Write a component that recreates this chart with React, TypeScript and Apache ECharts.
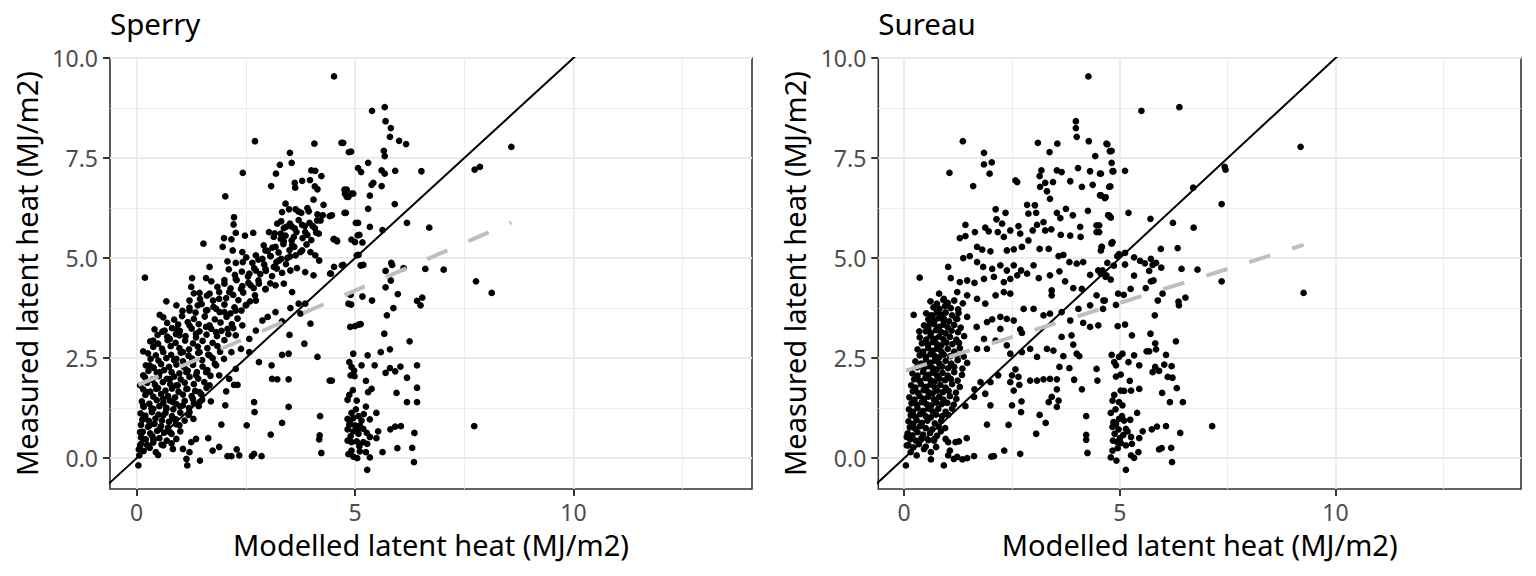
import React, { useEffect, useRef } from "react";
import * as echarts from "echarts";

const FONT = "Noto Sans";

const panelTitles = ["Sperry", "Sureau"];
const xAxisTitle = "Modelled latent heat (MJ/m2)";
const yAxisTitle = "Measured latent heat (MJ/m2)";

const xTickValues = [0, 5, 10];
const yTickValues = [0, 2.5, 5, 7.5, 10];
const xMinorValues = [2.5, 7.5, 12.5];
const yMinorValues = [1.25, 3.75, 6.25, 8.75];

// Sperry panel: scattered points
const sperryScatter: [number, number][] = [
  [4.52, 9.54], [2.71, 7.92], [4.07, 7.86], [4.69, 7.88], [4.86, 7.65], [3.51, 7.63], [3.55, 7.38], [3.28, 7.33],
  [2.43, 7.13], [3.19, 7.11], [4.0, 7.19], [4.09, 7.18], [4.23, 7.05], [3.08, 6.8], [3.62, 6.88], [3.79, 6.93],
  [3.97, 6.95], [4.08, 6.79], [4.14, 6.72], [3.63, 6.76], [4.76, 6.71], [4.81, 6.53], [4.92, 6.61], [2.03, 6.54],
  [4.05, 6.46], [4.28, 6.33], [3.41, 6.36], [3.64, 6.22], [3.77, 6.13], [3.94, 6.17], [4.14, 6.09], [4.26, 6.07],
  [4.42, 6.05], [4.76, 6.13], [3.33, 6.15], [2.23, 6.02], [2.22, 5.84], [3.22, 5.86], [3.37, 5.75], [3.55, 5.79],
  [3.79, 5.83], [4.03, 5.8], [4.13, 5.94], [4.17, 5.61], [2.27, 5.63], [2.48, 5.56], [2.67, 5.63], [2.0, 5.5],
  [2.17, 5.47], [3.03, 5.65], [3.14, 5.53], [3.3, 5.61], [3.6, 5.53], [3.86, 5.65], [5.02, 5.88], [5.06, 5.57],
  [1.53, 5.36], [1.97, 5.28], [2.2, 5.19], [2.42, 5.15], [4.51, 5.47], [4.59, 5.42], [3.37, 5.42], [3.56, 5.32],
  [3.18, 5.28], [2.95, 5.19], [3.79, 5.19], [3.98, 5.15], [2.73, 5.07], [2.88, 4.98], [3.07, 5.05], [3.26, 4.94],
  [3.45, 5.0], [3.64, 5.07], [4.09, 5.07], [4.18, 4.94], [2.08, 4.92], [2.27, 4.88], [2.43, 4.9], [1.67, 4.78],
  [0.19, 4.51], [1.27, 4.5], [1.59, 4.5], [2.01, 4.45], [2.27, 4.48], [2.58, 4.61], [2.73, 4.69], [2.95, 4.73],
  [3.14, 4.78], [3.33, 4.63], [3.52, 4.69], [3.67, 4.75], [3.86, 4.65], [4.05, 4.57], [4.45, 4.61], [4.7, 4.82],
  [5.04, 5.07], [5.14, 4.82], [1.25, 4.28], [1.44, 4.13], [1.67, 4.11], [1.89, 3.98], [2.12, 4.15], [2.39, 4.23],
  [2.61, 4.32], [2.8, 4.36], [2.95, 4.23], [3.18, 4.32], [3.37, 4.36], [3.56, 4.15], [0.68, 3.92], [0.53, 3.58],
  [1.21, 3.94], [1.21, 3.69], [1.4, 3.82], [1.59, 3.69], [1.82, 3.73], [2.01, 3.65], [2.27, 3.69], [2.5, 3.82],
  [2.73, 3.94], [3.0, 3.53], [3.18, 3.65], [3.33, 3.42], [3.75, 3.61], [3.98, 3.36], [3.52, 3.75], [3.71, 3.86],
  [3.86, 3.86], [4.85, 3.86], [4.89, 3.28], [5.09, 3.34], [0.64, 3.19], [0.91, 3.22], [0.38, 2.94], [0.15, 2.67],
  [0.76, 2.98], [0.98, 3.07], [1.21, 3.32], [1.36, 3.11], [1.59, 3.28], [1.82, 3.15], [2.08, 3.23], [2.27, 3.07],
  [2.42, 3.32], [2.58, 2.98], [2.73, 3.19], [2.88, 3.44], [3.5, 3.08], [3.84, 2.86], [4.14, 2.53], [3.33, 2.58],
  [3.48, 2.61], [3.09, 2.32], [3.1, 1.98], [3.22, 1.97], [3.48, 1.97], [4.42, 1.94], [2.8, 2.4], [2.58, 2.65],
  [2.39, 2.73], [2.17, 2.65], [2.0, 2.48], [1.82, 2.32], [1.67, 2.57], [1.44, 2.65], [1.29, 2.4], [1.06, 2.65],
  [0.91, 2.48], [1.14, 2.15], [1.36, 2.07], [1.59, 2.15], [1.89, 2.07], [2.12, 1.98], [2.23, 1.83], [2.31, 1.83],
  [2.05, 1.67], [2.27, 2.23], [1.67, 1.82], [1.44, 1.65], [1.29, 1.48], [1.14, 1.73], [0.91, 1.82], [0.76, 1.98],
  [0.53, 2.15], [0.3, 2.32], [0.15, 2.07], [0.08, 1.82], [0.23, 1.65], [0.45, 1.73], [0.61, 1.48], [0.83, 1.4],
  [1.06, 1.32], [1.21, 1.15], [1.44, 1.4], [1.7, 1.42], [2.03, 1.32], [2.69, 1.4], [2.7, 1.15], [3.48, 1.28],
  [3.33, 0.88], [3.07, 0.59], [2.52, 0.82], [1.94, 0.84], [1.64, 0.5], [4.2, 1.05], [4.19, 0.57], [4.18, 0.47],
  [4.23, 0.13], [0.15, 1.32], [0.38, 1.23], [0.61, 1.07], [0.83, 0.98], [0.98, 0.82], [0.15, 0.98], [0.3, 0.82],
  [0.53, 0.73], [0.76, 0.65], [0.08, 0.65], [0.15, 0.48], [0.38, 0.48], [0.08, 0.32], [0.61, 0.32], [0.83, 0.23],
  [1.06, 0.23], [1.25, 0.4], [1.36, 0.48], [1.21, 0.15], [1.14, -0.02], [1.45, -0.06], [1.16, -0.18], [0.49, 0.08],
  [0.04, -0.18], [0.06, 0.07], [1.74, 0.19], [1.89, 0.28], [2.08, 0.05], [2.17, 0.05], [2.35, 0.07], [2.29, 0.22],
  [2.64, 0.05], [2.69, 0.11], [2.86, 0.05], [0.91, 0.48], [0.68, 1.23],
];

// Sperry panel: dense cloud along the rising band
const sperryCloud: [number, number][] = [
  [0.05, 0.22], [0.16, 0.18], [0.3, 0.26], [0.44, 0.15],
  [0.1, 0.52], [0.21, 0.47], [0.36, 0.55], [0.52, 0.5], [0.69, 0.44],
  [0.1, 0.83], [0.26, 0.78], [0.41, 0.86], [0.56, 0.8], [0.72, 0.76], [0.9, 0.85],
  [0.09, 1.12], [0.2, 1.06], [0.35, 1.15], [0.5, 1.09], [0.66, 1.13], [0.81, 1.05], [1.0, 1.14], [1.19, 1.08],
  [0.12, 1.42], [0.29, 1.36], [0.46, 1.45], [0.61, 1.38], [0.76, 1.44], [0.91, 1.35], [1.1, 1.43], [1.31, 1.37], [1.5, 1.46],
  [0.15, 1.72], [0.31, 1.66], [0.49, 1.75], [0.66, 1.69], [0.81, 1.74], [0.96, 1.66], [1.16, 1.73], [1.34, 1.68], [1.6, 1.76],
  [0.19, 2.02], [0.36, 1.96], [0.51, 2.05], [0.69, 1.98], [0.86, 2.04], [1.01, 1.97], [1.21, 2.03], [1.41, 1.99], [1.69, 2.06],
  [0.21, 2.32], [0.39, 2.26], [0.56, 2.35], [0.74, 2.28], [0.91, 2.34], [1.09, 2.27], [1.29, 2.33], [1.51, 2.29], [1.79, 2.36],
  [0.26, 2.62], [0.44, 2.57], [0.61, 2.65], [0.79, 2.58], [1.01, 2.64], [1.19, 2.56], [1.41, 2.63], [1.64, 2.59], [1.91, 2.66],
  [0.31, 2.92], [0.49, 2.86], [0.71, 2.95], [0.89, 2.88], [1.11, 2.94], [1.29, 2.87], [1.51, 2.93], [1.74, 2.88], [2.01, 2.95],
  [0.41, 3.22], [0.59, 3.16], [0.81, 3.25], [0.99, 3.18], [1.26, 3.24], [1.44, 3.17], [1.71, 3.23], [1.94, 3.18], [2.21, 3.25],
  [0.61, 3.52], [0.86, 3.46], [1.04, 3.55], [1.31, 3.48], [1.56, 3.54], [1.79, 3.47], [2.06, 3.53], [2.31, 3.49],
  [0.91, 3.82], [1.21, 3.76], [1.49, 3.85], [1.76, 3.78], [2.01, 3.84], [2.24, 3.77], [2.51, 3.83],
  [1.31, 4.12], [1.61, 4.06], [1.89, 4.15], [2.21, 4.08], [2.44, 4.14], [2.71, 4.07],
  [1.71, 4.42], [2.01, 4.36], [2.29, 4.45], [2.56, 4.38], [2.79, 4.44], [3.06, 4.37],
  [2.11, 4.72], [2.41, 4.66], [2.69, 4.75], [2.96, 4.68], [3.21, 4.74],
  [2.51, 5.02], [2.79, 4.96], [3.06, 5.05], [3.31, 4.98], [3.51, 5.04],
  [2.91, 5.32], [3.11, 5.26], [3.36, 5.35], [3.61, 5.28], [3.89, 5.34],
  [3.16, 5.62], [3.41, 5.56], [3.66, 5.65], [3.91, 5.58], [4.11, 5.64],
  [3.31, 5.92], [3.51, 5.86], [3.71, 5.95], [3.96, 5.88], [4.21, 5.94],
  [3.49, 6.22], [3.71, 6.16], [3.91, 6.25],
];

// Sperry panel: more of the dense cloud (points between the rows above)
const sperryCloudFill: [number, number][] = [
  [0.1, 0.36], [0.24, 0.33], [0.38, 0.39], [0.57, 0.34], [0.8, 0.37],
  [0.14, 0.66], [0.31, 0.62], [0.47, 0.68], [0.63, 0.64], [0.8, 0.61], [1.0, 0.67],
  [0.13, 0.96], [0.28, 0.93], [0.43, 0.99], [0.58, 0.94], [0.74, 0.91], [0.9, 0.97], [1.1, 0.94], [1.3, 0.98],
  [0.16, 1.28], [0.34, 1.24], [0.52, 1.3], [0.68, 1.26], [0.84, 1.22], [1.0, 1.29], [1.2, 1.25], [1.42, 1.3],
  [0.2, 1.58], [0.38, 1.54], [0.56, 1.6], [0.72, 1.55], [0.88, 1.52], [1.06, 1.59], [1.26, 1.55], [1.48, 1.6],
  [0.24, 1.88], [0.42, 1.84], [0.6, 1.9], [0.77, 1.85], [0.94, 1.82], [1.1, 1.89], [1.31, 1.85], [1.55, 1.9],
  [0.27, 2.18], [0.46, 2.14], [0.63, 2.2], [0.8, 2.15], [0.98, 2.12], [1.17, 2.19], [1.38, 2.15], [1.62, 2.2],
  [0.32, 2.48], [0.5, 2.44], [0.68, 2.5], [0.86, 2.45], [1.06, 2.42], [1.27, 2.49], [1.5, 2.45], [1.74, 2.5],
  [0.38, 2.78], [0.58, 2.74], [0.78, 2.8], [0.98, 2.75], [1.2, 2.72], [1.4, 2.79], [1.62, 2.75], [1.85, 2.8],
  [0.48, 3.08], [0.7, 3.04], [0.9, 3.1], [1.12, 3.05], [1.36, 3.02], [1.6, 3.09], [1.84, 3.05], [2.1, 3.1],
  [0.7, 3.38], [0.95, 3.34], [1.17, 3.4], [1.42, 3.35], [1.67, 3.32], [1.92, 3.39], [2.18, 3.35],
  [1.05, 3.68], [1.35, 3.64], [1.62, 3.7], [1.9, 3.65], [2.15, 3.62], [2.4, 3.69],
  [1.45, 3.98], [1.75, 3.94], [2.05, 4.0], [2.33, 3.95], [2.6, 3.92],
  [1.85, 4.28], [2.15, 4.24], [2.42, 4.3], [2.68, 4.25], [2.95, 4.22],
  [2.25, 4.58], [2.55, 4.54], [2.83, 4.6], [3.1, 4.55],
  [2.65, 4.88], [2.92, 4.84], [3.2, 4.9], [3.42, 4.85],
  [3.0, 5.18], [3.25, 5.14], [3.5, 5.2], [3.75, 5.15],
  [3.3, 5.48], [3.55, 5.44], [3.8, 5.5], [4.0, 5.45],
  [3.42, 5.78], [3.62, 5.74], [3.85, 5.8], [4.08, 5.75],
];

// Sperry panel: points around and right of x = 5
const sperryRight: [number, number][] = [
  [5.39, 8.68], [5.68, 8.77], [5.7, 8.42], [5.82, 8.25], [5.8, 8.03], [6.01, 7.93], [6.17, 7.85], [4.73, 7.88],
  [4.91, 7.66], [5.66, 7.68], [5.68, 7.55], [5.07, 7.25], [5.14, 7.15], [5.3, 7.38], [5.61, 7.19], [5.68, 7.11],
  [5.92, 7.18], [6.52, 7.17], [7.74, 7.21], [7.86, 7.28], [8.58, 7.78], [4.81, 6.71], [4.77, 6.61], [4.96, 6.61],
  [4.85, 6.53], [5.38, 6.83], [5.42, 6.88], [5.61, 6.8], [5.34, 6.56], [4.47, 6.07], [4.79, 6.13], [5.3, 6.23],
  [5.91, 6.35], [5.07, 5.88], [5.34, 5.78], [6.19, 5.88], [6.7, 5.76], [5.63, 5.7], [4.52, 5.48], [4.58, 5.44],
  [4.92, 5.46], [5.0, 5.4], [5.1, 5.58], [5.17, 5.39], [5.08, 5.08], [4.73, 4.83], [4.52, 4.78], [4.43, 4.61],
  [5.13, 4.82], [5.19, 4.83], [5.7, 4.68], [5.83, 4.88], [5.85, 4.83], [6.11, 4.75], [6.61, 4.73], [7.03, 4.71],
  [7.77, 4.42], [8.13, 4.13], [5.7, 4.27], [5.82, 4.44], [4.9, 4.08], [5.17, 4.04], [5.39, 3.94], [5.98, 4.1],
  [6.42, 3.93], [6.54, 4.01], [6.5, 3.82], [4.91, 3.84], [5.88, 3.75], [5.73, 3.57], [5.0, 3.3], [5.13, 3.35],
  [5.67, 3.11], [6.25, 2.92], [4.96, 2.61], [5.29, 2.57], [5.59, 2.65], [5.8, 2.72], [4.87, 2.4], [4.92, 2.28],
  [4.98, 2.19], [5.15, 2.32], [5.45, 2.32], [5.7, 2.13], [5.8, 2.25], [5.92, 2.17], [6.04, 2.29], [6.42, 2.32],
  [6.19, 2.01], [4.9, 2.07], [4.99, 2.05], [4.47, 1.94], [5.25, 1.93], [5.38, 1.73], [5.3, 1.65], [5.95, 1.63],
  [6.42, 1.76], [4.87, 1.58], [5.04, 1.44], [4.83, 1.46], [6.19, 1.4], [6.42, 1.4], [5.25, 1.29], [5.49, 1.13],
  [4.92, 1.13], [5.34, 0.97], [4.83, 0.98], [4.96, 1.0], [5.08, 1.05], [5.15, 0.94], [4.87, 0.83], [5.0, 0.82],
  [5.11, 0.82], [5.19, 0.73], [4.83, 0.72], [4.96, 0.67], [5.08, 0.61], [5.27, 0.63], [5.34, 0.53], [5.49, 0.5],
  [5.53, 0.67], [5.81, 0.72], [5.92, 0.79], [6.05, 0.8], [6.36, 0.63], [7.73, 0.8], [4.83, 0.44], [4.92, 0.4],
  [5.04, 0.42], [5.19, 0.4], [5.28, 0.36], [4.92, 0.19], [5.11, 0.17], [5.25, 0.15], [4.96, 0.04], [5.05, 0.0],
  [5.34, 0.02], [5.63, 0.15], [5.97, 0.25], [6.31, 0.26], [6.35, -0.1], [5.28, -0.29], [4.88, 0.9], [5.02, 1.22],
  [4.9, 0.55], [5.1, 0.3], [4.95, 1.7], [5.2, 1.1], [4.85, 0.1], [5.06, 0.72],
];

// Sureau panel: scattered points
const sureauScatter: [number, number][] = [
  [4.27, 9.54], [3.98, 8.42], [3.98, 8.25], [4.0, 8.03], [1.36, 7.92], [3.1, 7.88], [3.55, 7.86], [4.28, 7.92],
  [4.69, 7.86], [3.37, 7.65], [4.77, 7.67], [4.43, 7.55], [1.85, 7.63], [1.85, 7.34], [2.03, 7.39], [1.05, 7.13],
  [1.98, 7.11], [3.18, 7.19], [3.14, 7.05], [3.54, 7.19], [3.65, 7.15], [4.03, 7.25], [4.31, 7.17], [4.54, 7.11],
  [4.83, 7.17], [2.58, 6.94], [2.62, 6.9], [1.6, 6.8], [3.15, 6.78], [3.27, 6.88], [3.45, 6.9], [3.31, 6.67],
  [3.38, 6.48], [3.85, 6.92], [4.12, 6.78], [4.37, 6.83], [4.54, 6.57], [4.65, 6.5], [4.75, 6.78], [2.12, 6.22],
  [2.35, 6.13], [2.85, 6.33], [3.03, 6.32], [2.88, 6.11], [3.06, 6.13], [3.54, 6.13], [3.62, 6.0], [3.75, 6.23],
  [3.91, 6.07], [4.26, 6.18], [4.73, 6.07], [4.77, 6.04], [1.42, 5.83], [1.88, 5.76], [2.14, 5.97], [2.27, 5.86],
  [2.17, 5.65], [2.31, 5.53], [2.46, 5.69], [2.65, 5.8], [2.69, 5.61], [2.98, 5.69], [3.08, 5.83], [3.23, 5.9],
  [3.27, 5.69], [3.41, 5.72], [3.63, 5.58], [3.85, 5.56], [4.08, 5.78], [4.09, 5.53], [4.46, 5.82], [4.46, 5.65],
  [4.58, 5.28], [4.81, 5.38], [1.29, 5.5], [1.42, 5.55], [1.64, 5.65], [1.96, 5.67], [1.69, 5.28], [1.81, 5.21],
  [2.0, 5.17], [2.38, 5.19], [2.54, 5.22], [2.73, 5.28], [2.88, 5.44], [3.14, 5.23], [3.35, 5.23], [3.58, 5.05],
  [3.69, 5.08], [3.83, 4.9], [4.0, 4.86], [4.15, 4.9], [1.37, 5.0], [1.52, 5.05], [1.69, 4.9], [1.83, 4.78],
  [2.04, 4.73], [2.23, 4.82], [2.38, 4.69], [2.54, 4.82], [2.71, 4.69], [2.85, 4.61], [3.0, 4.82], [3.12, 4.5],
  [3.38, 4.57], [3.6, 4.67], [3.73, 4.42], [3.92, 4.25], [4.12, 4.23], [4.31, 4.58], [4.5, 4.69], [4.69, 4.57],
  [4.94, 5.05], [0.36, 4.51], [1.02, 4.78], [1.08, 4.5], [1.29, 4.4], [1.46, 4.44], [1.63, 4.38], [1.85, 4.48],
  [2.08, 4.53], [2.31, 4.4], [2.46, 4.48], [2.62, 4.57], [3.42, 4.19], [3.42, 4.07], [0.81, 4.11], [0.92, 3.98],
  [1.23, 4.15], [1.46, 4.07], [1.69, 3.98], [1.88, 3.86], [2.12, 4.07], [2.31, 4.15], [2.46, 4.11], [2.77, 3.73],
  [3.0, 3.73], [3.23, 3.57], [3.38, 3.61], [3.65, 3.65], [3.85, 3.44], [4.04, 3.73], [4.15, 3.38], [4.31, 3.82],
  [4.46, 4.07], [4.62, 3.94], [4.5, 3.32], [4.31, 3.28], [0.22, 3.58], [0.62, 3.57], [0.77, 3.65], [0.35, 3.17],
  [0.6, 3.38], [0.92, 3.48], [1.23, 3.48], [1.46, 3.53], [1.68, 3.28], [1.92, 3.4], [2.04, 3.47], [2.23, 3.53],
  [2.38, 3.48], [2.54, 3.44], [2.69, 3.22], [2.73, 3.13], [2.23, 3.23], [1.85, 2.98], [1.69, 2.73], [1.92, 2.73],
  [2.12, 2.94], [2.38, 2.82], [2.46, 2.61], [2.73, 2.65], [2.92, 2.73], [3.08, 2.53], [3.31, 2.73], [3.46, 2.69],
  [3.65, 3.03], [3.88, 3.07], [3.92, 2.84], [4.0, 2.61], [4.06, 2.55], [3.69, 2.55], [3.6, 2.28], [3.83, 2.25],
  [4.46, 2.23], [4.48, 1.94], [3.94, 1.96], [4.12, 1.72], [2.92, 1.94], [3.08, 1.94], [3.23, 1.97], [3.38, 1.98],
  [3.54, 1.97], [3.54, 1.72], [3.42, 1.53], [3.58, 1.44], [3.54, 1.28], [3.35, 1.4], [2.58, 2.22], [2.5, 2.07],
  [2.65, 2.03], [2.46, 1.9], [2.67, 1.83], [2.54, 1.69], [2.18, 2.07], [2.0, 1.9], [1.77, 1.9], [1.88, 1.61],
  [1.63, 1.72], [1.62, 1.53], [2.0, 1.32], [1.42, 1.3], [2.5, 1.32], [2.72, 1.42], [2.71, 1.15], [3.14, 1.08],
  [3.28, 0.88], [3.06, 0.61], [2.42, 0.83], [1.92, 0.84], [4.22, 1.05], [4.22, 0.58], [4.22, 0.46], [4.25, 0.13],
  [2.32, 0.19], [2.69, 0.11], [2.02, 0.04], [2.08, 0.05], [1.62, 0.05], [1.46, 0.0], [1.35, -0.03], [1.23, 0.03],
  [1.15, -0.02], [0.92, -0.18], [0.62, -0.03], [0.29, 0.07], [0.04, -0.18], [1.45, 0.5], [1.27, 0.42], [1.19, 0.4],
  [1.02, 0.4], [0.96, 0.48], [1.06, 0.19], [1.02, 0.07], [0.85, 0.67], [0.69, 0.44], [0.74, 0.28], [0.62, 0.15],
  [0.46, 0.23], [0.15, 0.15], [0.06, 0.32], [0.06, 0.53],
];

// Sureau panel: dense cloud near the origin
const sureauCloud: [number, number][] = [
  [0.1, 0.32], [0.21, 0.27], [0.34, 0.35], [0.5, 0.29],
  [0.08, 0.62], [0.19, 0.57], [0.31, 0.65], [0.44, 0.59], [0.6, 0.63], [0.76, 0.56],
  [0.1, 0.92], [0.21, 0.86], [0.29, 0.95], [0.41, 0.88], [0.54, 0.94], [0.71, 0.87], [0.86, 0.93],
  [0.11, 1.22], [0.2, 1.16], [0.31, 1.25], [0.44, 1.18], [0.56, 1.24], [0.66, 1.17], [0.79, 1.23], [0.96, 1.16], [1.11, 1.24],
  [0.12, 1.52], [0.24, 1.46], [0.36, 1.55], [0.46, 1.48], [0.56, 1.54], [0.69, 1.47], [0.81, 1.53], [0.91, 1.46], [1.06, 1.55], [1.21, 1.48],
  [0.16, 1.82], [0.26, 1.76], [0.39, 1.85], [0.51, 1.78], [0.61, 1.84], [0.71, 1.77], [0.84, 1.83], [0.96, 1.76], [1.11, 1.85], [1.29, 1.78],
  [0.19, 2.12], [0.31, 2.06], [0.44, 2.15], [0.56, 2.08], [0.66, 2.14], [0.76, 2.07], [0.89, 2.13], [1.01, 2.06], [1.16, 2.15], [1.34, 2.08],
  [0.26, 2.42], [0.39, 2.36], [0.51, 2.45], [0.61, 2.38], [0.71, 2.44], [0.81, 2.37], [0.96, 2.43], [1.09, 2.36], [1.24, 2.45], [1.46, 2.38],
  [0.31, 2.72], [0.44, 2.66], [0.56, 2.75], [0.66, 2.68], [0.76, 2.74], [0.86, 2.67], [1.01, 2.73], [1.16, 2.66], [1.29, 2.75],
  [0.36, 3.02], [0.51, 2.96], [0.61, 3.05], [0.71, 2.98], [0.81, 3.04], [0.91, 2.97], [1.06, 3.03], [1.21, 2.96], [1.39, 3.05],
  [0.46, 3.32], [0.56, 3.26], [0.69, 3.35], [0.81, 3.28], [0.91, 3.34], [1.01, 3.27], [1.16, 3.33], [1.31, 3.26],
  [0.51, 3.62], [0.66, 3.56], [0.76, 3.65], [0.86, 3.58], [0.96, 3.64], [1.11, 3.57], [1.26, 3.63],
  [0.61, 3.92], [0.76, 3.86], [0.91, 3.95], [1.01, 3.88], [1.16, 3.94], [1.36, 3.87],
];

// Sureau panel: more of the dense cloud (points between the rows above)
const sureauCloudFill: [number, number][] = [
  [0.14, 0.47], [0.27, 0.44], [0.4, 0.5], [0.56, 0.45], [0.7, 0.48],
  [0.13, 0.77], [0.25, 0.74], [0.37, 0.8], [0.5, 0.75], [0.65, 0.72], [0.8, 0.79], [0.95, 0.75],
  [0.15, 1.07], [0.26, 1.03], [0.37, 1.1], [0.5, 1.05], [0.62, 1.02], [0.74, 1.09], [0.88, 1.05], [1.02, 1.08],
  [0.17, 1.37], [0.3, 1.33], [0.41, 1.4], [0.52, 1.35], [0.63, 1.32], [0.75, 1.39], [0.87, 1.35], [1.0, 1.38], [1.15, 1.34],
  [0.2, 1.67], [0.32, 1.63], [0.45, 1.7], [0.56, 1.65], [0.66, 1.62], [0.77, 1.69], [0.9, 1.65], [1.03, 1.68], [1.2, 1.64],
  [0.23, 1.97], [0.36, 1.93], [0.49, 2.0], [0.61, 1.95], [0.71, 1.92], [0.82, 1.99], [0.95, 1.95], [1.08, 1.98], [1.24, 1.94],
  [0.3, 2.27], [0.45, 2.23], [0.56, 2.3], [0.66, 2.25], [0.76, 2.22], [0.88, 2.29], [1.02, 2.25], [1.16, 2.28], [1.35, 2.24],
  [0.36, 2.57], [0.5, 2.53], [0.61, 2.6], [0.71, 2.55], [0.81, 2.52], [0.92, 2.59], [1.07, 2.55], [1.22, 2.58], [1.38, 2.54],
  [0.41, 2.87], [0.55, 2.83], [0.66, 2.9], [0.76, 2.85], [0.86, 2.82], [0.98, 2.89], [1.12, 2.85], [1.27, 2.88],
  [0.5, 3.17], [0.62, 3.13], [0.74, 3.2], [0.86, 3.15], [0.96, 3.12], [1.1, 3.19], [1.25, 3.15],
  [0.56, 3.47], [0.7, 3.43], [0.8, 3.5], [0.91, 3.45], [1.04, 3.42], [1.2, 3.49],
  [0.68, 3.77], [0.82, 3.73], [0.95, 3.8], [1.08, 3.75], [1.25, 3.72],
];

// Sureau panel: points around and right of x = 5
const sureauRight: [number, number][] = [
  [5.5, 8.68], [6.38, 8.77], [9.19, 7.78], [4.71, 7.84], [4.81, 7.68], [4.81, 7.38], [4.85, 7.17], [5.12, 7.18],
  [4.56, 7.11], [4.78, 6.79], [4.56, 6.57], [4.67, 6.52], [7.43, 7.28], [7.45, 7.21], [6.7, 6.76], [7.36, 6.35],
  [5.2, 6.13], [4.74, 6.07], [4.79, 6.01], [5.71, 5.98], [6.23, 5.88], [6.71, 5.76], [4.52, 5.82], [4.52, 5.65],
  [4.83, 5.4], [4.81, 5.36], [4.58, 5.28], [4.56, 5.19], [5.95, 5.23], [6.34, 5.25], [4.98, 5.1], [5.12, 5.13],
  [5.33, 5.02], [5.47, 4.93], [5.58, 4.87], [5.72, 4.98], [5.84, 4.88], [5.96, 4.76], [5.76, 4.83], [5.68, 4.68],
  [4.71, 4.88], [4.86, 4.81], [5.12, 4.84], [4.6, 4.69], [4.56, 4.61], [4.67, 4.53], [4.79, 4.46], [5.33, 4.56],
  [6.43, 4.73], [6.8, 4.71], [5.78, 4.44], [5.72, 4.42], [7.36, 4.42], [5.6, 4.25], [5.25, 4.23], [9.26, 4.13],
  [4.96, 4.11], [5.09, 4.08], [5.99, 4.11], [5.88, 3.94], [6.52, 4.01], [6.36, 3.91], [6.37, 3.82], [4.91, 3.83],
  [4.65, 3.94], [4.61, 3.73], [5.81, 3.57], [4.95, 3.3], [5.12, 3.34], [5.28, 3.07], [5.71, 3.11], [6.3, 2.92],
  [5.82, 2.87], [5.84, 2.72], [5.62, 2.67], [5.68, 2.67], [6.07, 2.58], [4.81, 2.58], [5.06, 2.61], [4.98, 2.53],
  [5.33, 2.57], [4.87, 2.4], [5.2, 2.4], [4.91, 2.32], [5.45, 2.32], [5.82, 2.28], [5.91, 2.18], [6.03, 2.34],
  [6.2, 2.3], [5.76, 2.15], [5.02, 2.09], [4.91, 2.04], [5.23, 1.93], [6.11, 2.03], [6.22, 2.01], [6.32, 1.75],
  [5.45, 1.73], [5.26, 1.69], [5.98, 1.63], [5.02, 1.69], [5.1, 1.68], [4.87, 1.58], [4.83, 1.44], [4.98, 1.4],
  [5.06, 1.32], [6.16, 1.4], [6.46, 1.4], [4.79, 1.13], [5.4, 1.13], [5.24, 0.96], [4.98, 0.98], [5.1, 0.94],
  [4.91, 0.86], [4.83, 0.78], [4.97, 0.72], [5.14, 0.73], [4.88, 0.61], [5.08, 0.58], [5.18, 0.67], [5.26, 0.53],
  [5.45, 0.5], [5.53, 0.67], [5.74, 0.72], [5.86, 0.79], [6.07, 0.8], [6.4, 0.63], [7.14, 0.8], [4.84, 0.44],
  [4.94, 0.4], [5.02, 0.38], [5.14, 0.32], [5.28, 0.36], [4.83, 0.19], [4.79, 0.02], [4.92, -0.06], [5.26, 0.07],
  [5.33, 0.01], [5.43, 0.15], [5.91, 0.22], [5.97, 0.25], [6.19, 0.26], [6.21, -0.1], [5.14, -0.29], [4.9, 1.22],
  [5.0, 0.5], [4.85, 0.9], [5.05, 1.05], [4.95, 0.25],
];

// Dashed trend lines (end points) and the 1:1 line
const sperryTrend: [number, number][] = [[0.04, 1.83], [8.58, 5.89]];
const sureauTrend: [number, number][] = [[0.04, 2.19], [9.26, 5.33]];
const identityLine: [number, number][] = [[-1, -1], [15, 15]];

const xRanges: [number, number][] = [[-0.61, 14.09], [-0.6, 14.3]];
const yRange: [number, number] = [-0.77, 10.0];

const panels = [
  {
    left: 110, width: 642,
    points: [...sperryScatter, ...sperryCloud, ...sperryCloudFill, ...sperryRight], trend: sperryTrend,
  },
  {
    left: 878.3, width: 642.7,
    points: [...sureauScatter, ...sureauCloud, ...sureauCloudFill, ...sureauRight], trend: sureauTrend,
  },
];
const TOP = 58;
const HEIGHT = 431;

function buildOption() {
  const grid: any[] = [];
  const xAxis: any[] = [];
  const yAxis: any[] = [];
  const series: any[] = [];
  const graphic: any[] = [];

  panels.forEach((p, i) => {
    grid.push({
      left: p.left, top: TOP, width: p.width, height: HEIGHT,
      show: true, borderColor: "#333333", borderWidth: 1.6, backgroundColor: "#FFFFFF",
      containLabel: false,
    });
    xAxis.push({
      type: "value", gridIndex: i, min: xRanges[i][0], max: xRanges[i][1],
      axisLine: { show: false, onZero: false },
      splitLine: { show: false },
      axisTick: { show: true, customValues: xTickValues, length: 7, lineStyle: { color: "#333333", width: 2 } },
      axisLabel: {
        show: true, customValues: xTickValues, color: "#4D4D4D", fontSize: 23, fontFamily: FONT, margin: 11,
        formatter: (v: number) => String(v),
      },
    });
    yAxis.push({
      type: "value", gridIndex: i, min: yRange[0], max: yRange[1],
      axisLine: { show: false, onZero: false },
      splitLine: { show: false },
      axisTick: { show: true, customValues: yTickValues, length: 7, lineStyle: { color: "#333333", width: 2 } },
      axisLabel: {
        show: true, customValues: yTickValues, color: "#4D4D4D", fontSize: 23, fontFamily: FONT, margin: 12,
        formatter: (v: number) => v.toFixed(1),
      },
    });

    const gridLines: any[] = [];
    xTickValues.forEach((v) => gridLines.push({ xAxis: v, lineStyle: { width: 1.8 } }));
    yTickValues.forEach((v) => gridLines.push({ yAxis: v, lineStyle: { width: 1.8 } }));
    xMinorValues.forEach((v) => gridLines.push({ xAxis: v, lineStyle: { width: 0.9 } }));
    yMinorValues.forEach((v) => gridLines.push({ yAxis: v, lineStyle: { width: 0.9 } }));

    series.push({
      type: "line", xAxisIndex: i, yAxisIndex: i, data: [], z: 1, silent: true,
      markLine: {
        silent: true, z: 1, symbol: ["none", "none"], label: { show: false },
        lineStyle: { color: "#EBEBEB", type: "solid" },
        emphasis: { disabled: true },
        data: gridLines,
      },
    });
    series.push({
      type: "scatter", xAxisIndex: i, yAxisIndex: i, data: p.points, z: 3,
      symbol: "circle", symbolSize: 6.7, itemStyle: { color: "#000000", opacity: 1 }, silent: true,
    });
    series.push({
      type: "line", xAxisIndex: i, yAxisIndex: i, data: identityLine, z: 4, clip: true,
      showSymbol: false, symbol: "none", lineStyle: { color: "#000000", width: 2 }, silent: true,
    });
    series.push({
      type: "line", xAxisIndex: i, yAxisIndex: i, data: p.trend, z: 5, clip: true,
      showSymbol: false, symbol: "none", lineStyle: { color: "#BEBEBE", width: 4, type: [22, 23], cap: "butt" }, silent: true,
    });

    const cx = p.left + p.width / 2;
    graphic.push({
      type: "text", x: p.left, y: 23.5,
      style: { text: panelTitles[i], fill: "#000000", font: `29.5px "${FONT}"`, textAlign: "left", textVerticalAlign: "middle" },
    });
    graphic.push({
      type: "text", x: cx, y: 544.5,
      style: { text: xAxisTitle, fill: "#000000", font: `29px "${FONT}"`, textAlign: "center", textVerticalAlign: "middle" },
    });
    graphic.push({
      type: "text", x: p.left - 84, y: TOP + HEIGHT / 2, rotation: Math.PI / 2,
      style: { text: yAxisTitle, fill: "#000000", font: `29px "${FONT}"`, textAlign: "center", textVerticalAlign: "middle" },
    });
  });

  return {
    animation: false,
    backgroundColor: "#FFFFFF",
    textStyle: { fontFamily: FONT },
    grid, xAxis, yAxis, series, graphic,
  };
}

export default function App() {
  const ref = useRef<HTMLDivElement>(null);
  useEffect(() => {
    if (!ref.current) return;
    const chart = echarts.init(ref.current, null, { renderer: "svg" });
    chart.setOption(buildOption() as any);
    return () => chart.dispose();
  }, []);
  return (
    <div
      ref={ref}
      style={{ position: "fixed", left: 0, top: 0, width: 1536, height: 576, background: "#FFFFFF" }}
    />
  );
}
